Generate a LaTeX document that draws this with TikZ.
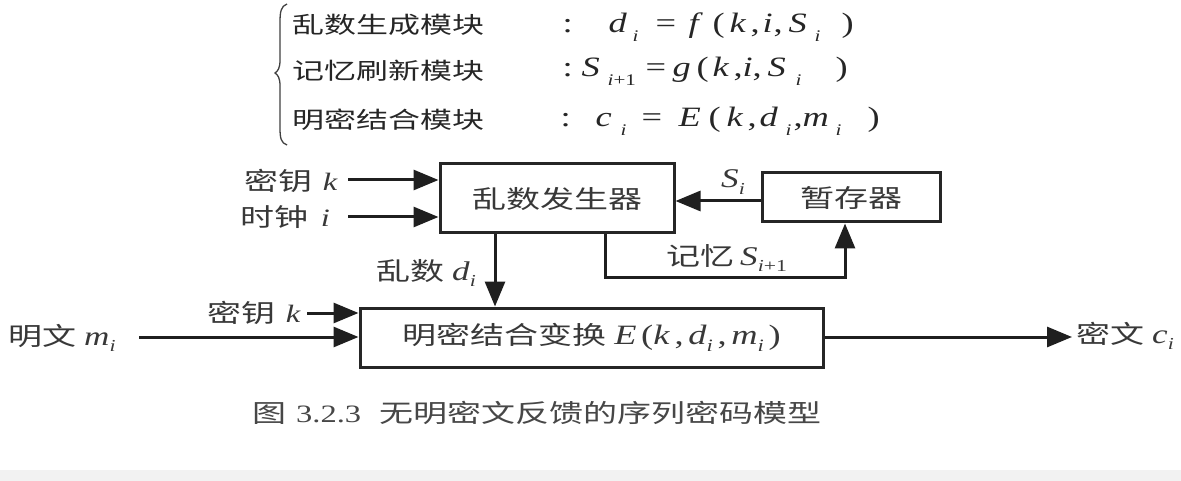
\documentclass[tikz,border=0pt]{standalone}
\usepackage{graphicx}
\usepackage{fontspec}
\setmainfont{Liberation Serif}[FakeStretch=1.3]
\newfontfamily\cjk[FakeStretch=1.39]{Noto Sans CJK SC}
\newfontfamily\cjks[FakeStretch=1.36]{Noto Sans CJK SC}
\usetikzlibrary{arrows.meta}
\newcommand\vv[1]{\textit{#1}}
\newcommand\subx[1]{\raisebox{-0.24em}{\scalebox{0.62}{\itshape #1}}}
\newcommand\subt[1]{\raisebox{-0.30em}{\scalebox{0.58}{\itshape #1}}}
\newcommand\putat[2]{\makebox[0pt][l]{\hspace*{#1pt}#2}}
\begin{document}
\begin{tikzpicture}[x=1pt,y=-1pt,
  box/.style={draw=black!85,line width=3pt,inner sep=0pt,font=\fontsize{25}{28}\selectfont,text=black!78},
  arr/.style={line width=3pt,draw=black!88,-{Triangle[length=25pt,width=20pt]}},
  lab/.style={inner sep=0pt,font=\fontsize{25}{28}\selectfont,text=black!78},
  mth/.style={inner sep=0pt,font=\fontsize{28}{30}\selectfont,text=black!85},
  topc/.style={inner sep=0pt,font=\fontsize{23}{26}\selectfont\cjk,text=black!85}]
\useasboundingbox (0,0) rectangle (1181,481);
\fill[white] (0,0) rectangle (1181,481);
\fill[black!5] (0,470) rectangle (1181,481);

% top equations
\draw[line width=1.3pt,draw=black!75] (287,4) .. controls (281,6) and (280,12) .. (280,22)
  -- (280,60) .. controls (280,68) and (278,71) .. (275,73)
  .. controls (278,75) and (280,78) .. (280,86)
  -- (280,128) .. controls (280,138) and (281,143) .. (287,145);
\node[topc,anchor=west] (t1) at (292,25) {乱数生成模块};
\node[topc,anchor=west] (t2) at (292,71) {记忆刷新模块};
\node[topc,anchor=west] (t3) at (292,120) {明密结合模块};
\node[mth,anchor=base west] (r1) at (562,33) {\putat{0}{:}\putat{46}{\itshape d}\putat{70}{\subt{i}}\putat{93}{=}%
  \putat{126}{\itshape f}\putat{150}{(}\putat{167}{\itshape k}\putat{188}{,}\putat{200}{\itshape i}\putat{211}{,}%
  \putat{226}{\itshape S}\putat{252}{\subt{i}}\putat{279}{)}};
\node[mth,anchor=base west] (r2) at (562,77) {\putat{0}{:}\putat{19}{\itshape S}\putat{45}{\subt{i}\subt{\upshape +1}}\putat{83}{=}%
  \putat{110}{\itshape g}\putat{134}{(}\putat{150}{\itshape k}\putat{171}{,}\putat{180}{\itshape i}\putat{190}{,}%
  \putat{205}{\itshape S}\putat{233}{\subt{i}}\putat{273}{)}};
\node[mth,anchor=base west] (r3) at (560,127) {\putat{0}{:}\putat{35}{\itshape c}\putat{60}{\subt{i}}\putat{81}{=}%
  \putat{118}{\itshape E}\putat{148}{(}\putat{166}{\itshape k}\putat{187}{,}\putat{199}{\itshape d}\putat{225}{\subt{i}}%
  \putat{233}{,}\putat{242}{\itshape m}\putat{275}{\subt{i}}\putat{307}{)}};

% boxes
\node[box,minimum width=234pt,minimum height=69pt] (b1) at (557,198.5) {\cjks 乱数发生器};
\node[box,minimum width=178pt,minimum height=49pt] (b2) at (851,197.5) {\cjks 暂存器};
\node[box,minimum width=463pt,minimum height=59pt] (b3) at (591.5,337.5) {{\cjks 明密结合变换}\hspace{8pt}{\fontsize{28}{30}\selectfont\vv{E}\,(\vv{k}\,,\,\vv{d}\subx{i}\,,\,\vv{m}\subx{i}\,)}};

% connector ends
\coordinate (k1) at (348,180);
\coordinate (ck) at (348,217);
\coordinate (k2) at (307,313);
\coordinate (mi) at (139,337);
\coordinate (out) at (1072,337);
\coordinate (dx) at (495,0);
\coordinate (sy) at (0,201);
\coordinate (fb) at (605,277);

\draw[arr] (k1) -- (k1 -| b1.west);
\draw[arr] (ck) -- (ck -| b1.west);
\draw[arr] (b2.west |- sy) -- (b1.east |- sy);
\draw[arr] (b1.south -| dx) -- (b3.north -| dx);
\draw[arr] (b1.south -| fb) -- (fb) -| ([xshift=-6pt]b2.south);
\draw[arr] (k2) -- (k2 -| b3.west);
\draw[arr] (mi) -- (mi -| b3.west);
\draw[arr] (b3.east |- out) -- (out);

% labels
\node[lab,anchor=east] (lk1) at (338,181) {{\cjks 密钥}\hspace{10pt}\vv{k}};
\node[lab,anchor=east] (lck) at (330,217) {{\cjks 时钟}\hspace{12pt}\vv{i}};
\node[lab,anchor=east] (ldi) at (476,273) {{\cjks 乱数}\hspace{8pt}{\fontsize{27}{29}\selectfont\vv{d}\subx{i}}};
\node[lab] (lsi) at (733,182) {{\fontsize{27}{29}\selectfont\vv{S}\subx{i}}};
\node[lab,anchor=west] (lsn) at (666,258) {{\cjks 记忆}\hspace{6pt}{\fontsize{27}{29}\selectfont\vv{S}\subx{i}\subx{\upshape +1}}};
\node[lab,anchor=east] (lk2) at (301,313) {{\cjks 密钥}\hspace{10pt}\vv{k}};
\node[lab,anchor=west] (lmi) at (8,338) {{\cjks 明文}\hspace{8pt}{\fontsize{27}{29}\selectfont\vv{m}\subx{i}}};
\node[lab,anchor=west] (lci) at (1076,336) {{\cjks 密文}\hspace{8pt}{\fontsize{27}{29}\selectfont\vv{c}\subx{i}}};

% caption
\node[inner sep=0pt,anchor=west,font=\fontsize{25}{28}\selectfont,text=black!72] (cap) at (252,413) {{\cjks 图}\hspace{10pt}3.2.3\hspace{18pt}{\cjks 无明密文反馈的序列密码模型}};
\end{tikzpicture}
\end{document}
